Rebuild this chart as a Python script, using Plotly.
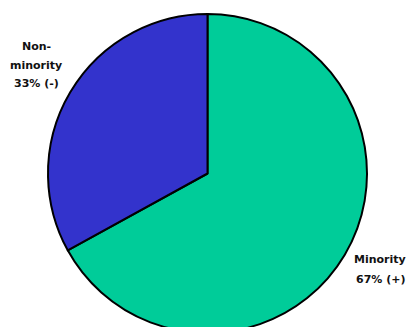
import plotly.graph_objects as go

labels = ["Minority", "Non-minority"]
values = [67, 33]
colors = ["#00CC99", "#3333CC"]
label_lines = {
    "Minority": ["Minority", "67% (+)"],
    "Non-minority": ["Non-", "minority", "33% (-)"],
}

W, H = 409, 340  # page is taller than the 327px window; the pie bottom is clipped as in the reference
fig = go.Figure(go.Pie(
    labels=labels, values=values, sort=False, direction="clockwise", rotation=0,
    marker=dict(colors=colors, line=dict(color="black", width=2)),
    textinfo="none", hoverinfo="label+percent", showlegend=False,
    domain=dict(x=[48 / W, 367 / W], y=[1 - 333 / H, 1 - 14 / H]),
))

font = dict(family="DejaVu Sans", size=11, color="#111111")
def add_lines(lines, xc, ys):
    for t, y in zip(lines, ys):
        fig.add_annotation(text="<b>%s</b>" % t, x=xc / W, y=1 - y / H, xref="paper", yref="paper",
                           showarrow=False, font=font, xanchor="center", yanchor="middle")

add_lines(label_lines["Non-minority"], 36, [47, 65, 83])
add_lines(label_lines["Minority"], 380, [259, 279])

fig.update_layout(width=W, height=H, margin=dict(l=0, r=0, t=0, b=0),
                  paper_bgcolor="white", plot_bgcolor="white")
fig.write_html("out.html", post_script="document.documentElement.style.overflow='hidden';document.body.style.overflow='hidden';")
